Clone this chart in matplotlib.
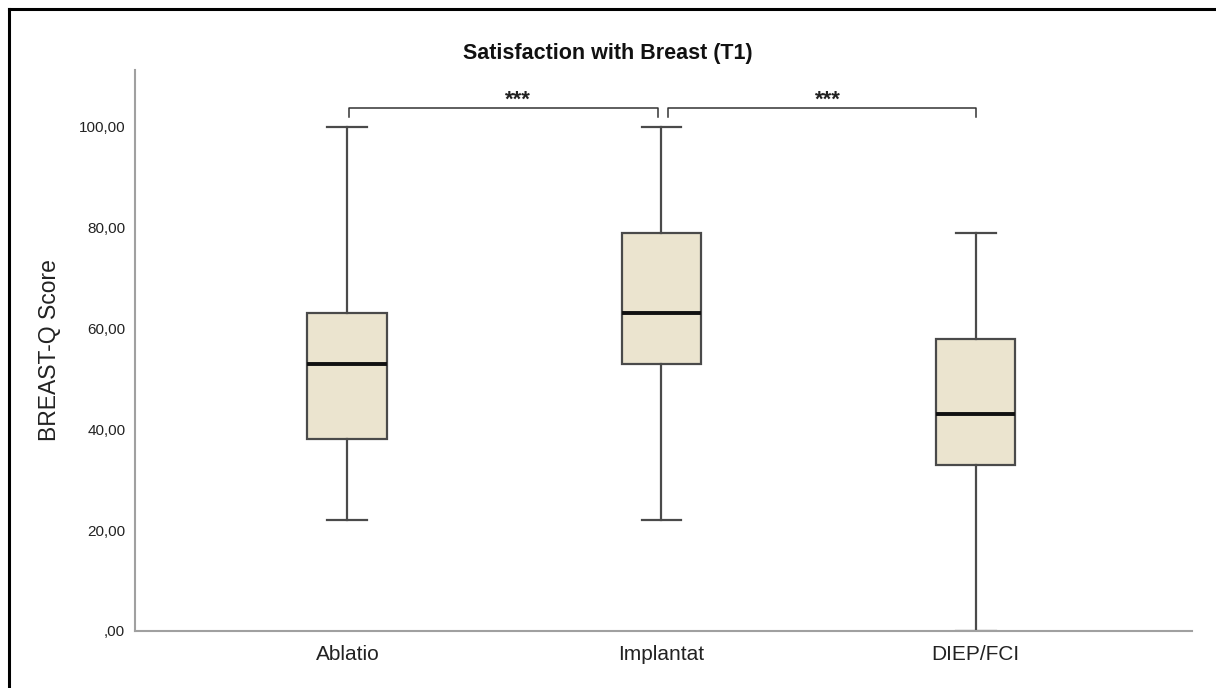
import matplotlib.pyplot as plt
from matplotlib.lines import Line2D

plt.rcParams['font.family'] = ['Liberation Sans', 'DejaVu Sans']

# Box plot summary values
groups = ["Ablatio", "Implantat", "DIEP/FCI"]
whisker_low = [22, 22, 0]
q1 = [38, 53, 33]
median = [53, 63, 43]
q3 = [63, 79, 58]
whisker_high = [100, 100, 79]

y_ticks = [0, 20, 40, 60, 80, 100]
y_tick_labels = [",00", "20,00", "40,00", "60,00", "80,00", "100,00"]

# significance brackets: (left group index, right group index, label)
sig_pairs = [(0, 1, "***"), (1, 2, "***")]

box_fill = "#ebe4cf"
edge_col = "#4a4a4a"
axis_col = "#a0a0a0"

fig = plt.figure(figsize=(12.16, 6.88), dpi=100)
ax = fig.add_axes([135 / 1216, 1 - 631 / 688, (1192 - 135) / 1216, (631 - 70) / 688])

positions = [i + 1 for i in range(len(groups))]
stats = []
for i, g in enumerate(groups):
    stats.append({
        "label": g,
        "whislo": whisker_low[i],
        "q1": q1[i],
        "med": median[i],
        "q3": q3[i],
        "whishi": whisker_high[i],
        "fliers": [],
    })

ax.bxp(
    stats,
    positions=positions,
    widths=0.254,
    patch_artist=True,
    showfliers=False,
    boxprops=dict(facecolor=box_fill, edgecolor=edge_col, linewidth=1.6),
    medianprops=dict(color="#111111", linewidth=2.8, solid_capstyle="butt"),
    whiskerprops=dict(color=edge_col, linewidth=1.6),
    capprops=dict(color=edge_col, linewidth=1.6),
    capwidths=0.127,
)

ax.set_xlim(0.324, 3.689)
ax.set_ylim(0, 111.3)

ax.set_yticks(y_ticks)
ax.set_yticklabels(y_tick_labels, fontsize=11, color="#222222")
ax.set_xticks(positions)
ax.set_xticklabels(groups, fontsize=15, color="#222222")
ax.tick_params(axis="y", length=0, pad=7)
ax.tick_params(axis="x", length=0, pad=10)

for side in ["top", "right"]:
    ax.spines[side].set_visible(False)
for side in ["left", "bottom"]:
    ax.spines[side].set_color(axis_col)
    ax.spines[side].set_linewidth(1.5)

ax.set_ylabel("BREAST-Q Score", fontsize=16.5, color="#222222", labelpad=13)

# significance brackets
bracket_top = 103.8
bracket_end = 102.0
for k, (a, b, lab) in enumerate(sig_pairs):
    xa = positions[a] + (0.005 if k == 0 else 0.02)
    xb = positions[b] - (0.01 if k == 0 else 0.0)
    ax.plot([xa, xa, xb, xb], [bracket_end, bracket_top, bracket_top, bracket_end],
            color="#333333", linewidth=1.1, clip_on=False)
    ax.text((xa + xb) / 2 + (0.045 if k == 0 else 0.02), 104.3, lab,
            ha="center", va="baseline", fontsize=16, fontweight="bold", color="#222222")

fig.text(608 / 1216, 1 - 53 / 688, "Satisfaction with Breast (T1)",
         ha="center", va="center", fontsize=15.5, fontweight="bold", color="#111111")

# outer frame (only top and left edges visible in the crop)
fig.add_artist(Line2D([9 / 1216, 1.0], [1 - 9 / 688, 1 - 9 / 688], color="black", linewidth=2.2))
fig.add_artist(Line2D([9 / 1216, 9 / 1216], [0.0, 1 - 9 / 688], color="black", linewidth=2.2))

fig.savefig("out.png", dpi=100)
